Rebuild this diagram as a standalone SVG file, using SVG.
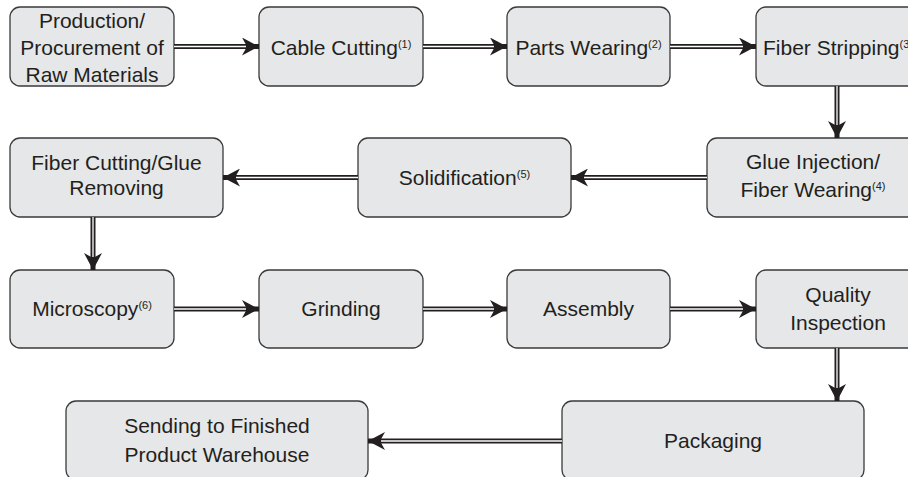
<svg xmlns="http://www.w3.org/2000/svg" width="908" height="477" viewBox="0 0 908 477">
  <style>
    .box { fill: #e6e7e8; stroke: #3a3a3a; stroke-width: 1.3; }
    .lbl { font-family: "Liberation Sans", Arial, sans-serif; font-size: 21px; fill: #231f20; text-anchor: middle; }
    .sup { font-size: 11px; }
    .shaft { stroke: #231f20; stroke-width: 5; fill: none; }
    .core { stroke: #ffffff; stroke-width: 1.3; fill: none; }
  </style>
  <defs>
    <marker id="head" viewBox="0 0 17 18" refX="17" refY="9" markerWidth="17" markerHeight="18" markerUnits="userSpaceOnUse" orient="auto">
      <path d="M0,0 L17,9 L0,18 L5,9 Z" fill="#231f20"/>
    </marker>
  </defs>
  <rect width="908" height="477" fill="#ffffff"/>

  <!-- process steps -->
  <g id="n-production">
    <rect class="box" x="10" y="7" width="164" height="79" rx="10"/>
    <text class="lbl" x="92" y="27.5">Production/</text>
    <text class="lbl" x="92" y="55">Procurement of</text>
    <text class="lbl" x="92" y="82">Raw Materials</text>
  </g>
  <g id="n-cable-cutting">
    <rect class="box" x="259" y="7" width="164" height="79" rx="10"/>
    <text class="lbl" x="341" y="55">Cable Cutting<tspan class="sup" dy="-7">(1)</tspan></text>
  </g>
  <g id="n-parts-wearing">
    <rect class="box" x="507" y="7" width="163" height="79" rx="10"/>
    <text class="lbl" x="588.5" y="55">Parts Wearing<tspan class="sup" dy="-7">(2)</tspan></text>
  </g>
  <g id="n-fiber-stripping">
    <rect class="box" x="756" y="7" width="164" height="79" rx="10"/>
    <text class="lbl" x="838" y="55">Fiber Stripping<tspan class="sup" dy="-7">(3)</tspan></text>
  </g>

  <g id="n-glue-injection">
    <rect class="box" x="707" y="138" width="213" height="79" rx="10"/>
    <text class="lbl" x="813" y="169">Glue Injection/</text>
    <text class="lbl" x="813" y="197">Fiber Wearing<tspan class="sup" dy="-7">(4)</tspan></text>
  </g>
  <g id="n-solidification">
    <rect class="box" x="358" y="138" width="213" height="79" rx="10"/>
    <text class="lbl" x="464.5" y="185">Solidification<tspan class="sup" dy="-7">(5)</tspan></text>
  </g>
  <g id="n-fiber-cutting">
    <rect class="box" x="10" y="138" width="213" height="79" rx="10"/>
    <text class="lbl" x="116.5" y="169.5">Fiber Cutting/Glue</text>
    <text class="lbl" x="116.5" y="194.5">Removing</text>
  </g>

  <g id="n-microscopy">
    <rect class="box" x="10" y="270" width="164" height="78" rx="10"/>
    <text class="lbl" x="92" y="316">Microscopy<tspan class="sup" dy="-7">(6)</tspan></text>
  </g>
  <g id="n-grinding">
    <rect class="box" x="259" y="270" width="164" height="78" rx="10"/>
    <text class="lbl" x="341" y="316">Grinding</text>
  </g>
  <g id="n-assembly">
    <rect class="box" x="507" y="270" width="163" height="78" rx="10"/>
    <text class="lbl" x="588.5" y="316">Assembly</text>
  </g>
  <g id="n-quality-inspection">
    <rect class="box" x="756" y="270" width="164" height="78" rx="10"/>
    <text class="lbl" x="838" y="302">Quality</text>
    <text class="lbl" x="838" y="330">Inspection</text>
  </g>

  <g id="n-packaging">
    <rect class="box" x="562" y="401" width="302" height="79" rx="10"/>
    <text class="lbl" x="713" y="448">Packaging</text>
  </g>
  <g id="n-sending">
    <rect class="box" x="66" y="401" width="302" height="79" rx="10"/>
    <text class="lbl" x="217" y="433">Sending to Finished</text>
    <text class="lbl" x="217" y="462">Product Warehouse</text>
  </g>

  <!-- double-line connectors -->
  <g id="connectors">
    <path class="shaft" marker-end="url(#head)" d="M174,46.5 H259"/>
    <path class="core" d="M174,46.5 H246"/>
    <path class="shaft" marker-end="url(#head)" d="M423,46.5 H507"/>
    <path class="core" d="M423,46.5 H494"/>
    <path class="shaft" marker-end="url(#head)" d="M670,46.5 H756"/>
    <path class="core" d="M670,46.5 H743"/>
    <path class="shaft" marker-end="url(#head)" d="M837,86 V138"/>
    <path class="core" d="M837,86 V125"/>

    <path class="shaft" marker-end="url(#head)" d="M707,177.5 H571"/>
    <path class="core" d="M707,177.5 H584"/>
    <path class="shaft" marker-end="url(#head)" d="M358,177.5 H223"/>
    <path class="core" d="M358,177.5 H236"/>
    <path class="shaft" marker-end="url(#head)" d="M93,217 V270"/>
    <path class="core" d="M93,217 V257"/>

    <path class="shaft" marker-end="url(#head)" d="M174,309 H259"/>
    <path class="core" d="M174,309 H246"/>
    <path class="shaft" marker-end="url(#head)" d="M423,309 H507"/>
    <path class="core" d="M423,309 H494"/>
    <path class="shaft" marker-end="url(#head)" d="M670,309 H756"/>
    <path class="core" d="M670,309 H743"/>
    <path class="shaft" marker-end="url(#head)" d="M837,348 V401"/>
    <path class="core" d="M837,348 V388"/>

    <path class="shaft" marker-end="url(#head)" d="M562,441 H368"/>
    <path class="core" d="M562,441 H381"/>
  </g>
</svg>
